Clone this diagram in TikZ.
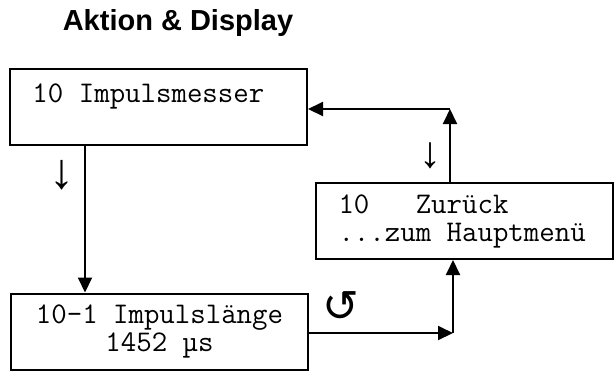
\documentclass[tikz,border=0pt]{standalone}
\usepackage{fontspec}
\setmainfont{Liberation Sans}
\newfontfamily\symfont{DejaVu Sans}
\usetikzlibrary{arrows.meta}
\begin{document}
\begin{tikzpicture}[x=0.5pt, y=-0.5pt,
    display/.style={rectangle, draw, line width=1pt, minimum width=148.5pt, minimum height=38pt,
        inner xsep=11pt, text width=126pt, align=left, font=\fontsize{15}{14}\selectfont\ttfamily,
        execute at begin node={\spaceskip=\fontdimen2\font\xspaceskip=\fontdimen2\font}},
    arr/.style={line width=1pt, -{Triangle[length=7.5pt, width=7pt]}}]
        \useasboundingbox (0,0) rectangle (615,371);
        \node[font=\fontsize{14.5}{17}\selectfont\bfseries] (title) at (178,23) {Aktion \& Display};
        \node[display] (impuls) at (158.5,107) {10 Impulsmesser\\\mbox{}};
        \node[display, align=center] (laenge) at (159.5,331.5) {10-1 Impulslänge\\1452 µs};
        \node[display] (zurueck) at (464.5,221) {10\ \ \ Zurück\\...zum Hauptmenü};
        \node[font=\fontsize{25}{25}\selectfont] (weiter) at (62,175) {↓};
        \node[font=\fontsize{22}{22}\selectfont] (zurueckwahl) at (430,156) {↓};
        \node[font=\symfont\fontsize{22}{22}\selectfont] (wiederholen) at (341,307) {↺};
        \coordinate (runter) at (85,0);
        \coordinate (ecke) at (453,333);
        \coordinate (rueck) at (450,109);
        \draw[arr] (impuls.south -| runter) -- (laenge.north -| runter);
        \draw[arr] (laenge.east |- ecke) -- (ecke);
        \draw[arr] (ecke) -- (zurueck.south -| ecke);
        \draw[arr] (zurueck.north -| rueck) -- (rueck);
        \draw[arr] (rueck) -- (impuls.east |- rueck);
    \end{tikzpicture}
\end{document}
